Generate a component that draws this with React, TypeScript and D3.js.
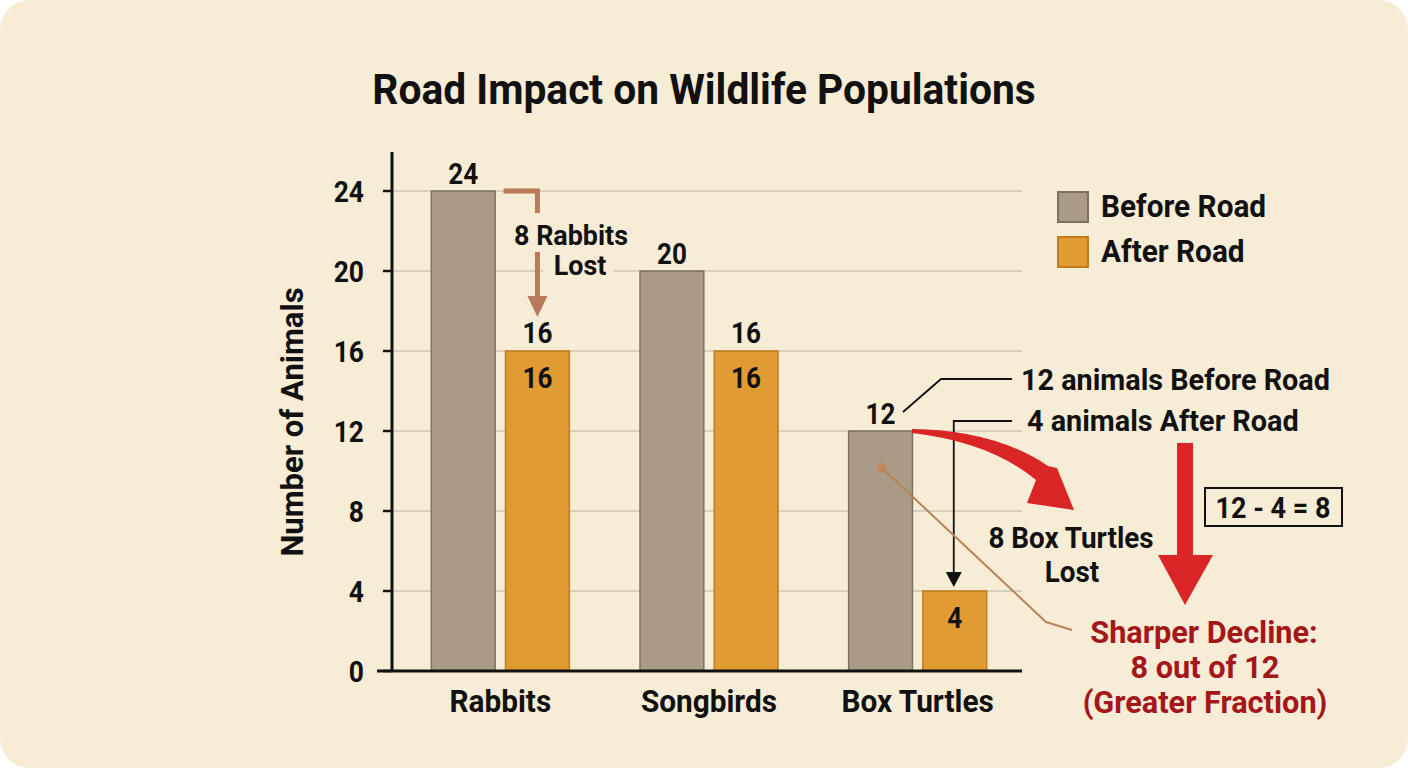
import React from 'react';
import * as d3 from 'd3';

const W = 1408;
const H = 768;

const categories = ['Rabbits', 'Songbirds', 'Box Turtles'];
const beforeRoad = [24, 20, 12];
const afterRoad = [16, 16, 4];
const seriesNames = ['Before Road', 'After Road'];
const yTicks = [0, 4, 8, 12, 16, 20, 24];

const FONT = "Roboto, 'Noto Sans', sans-serif";
const SX = 0.96; // slight squeeze toward a condensed look
const BG = '#f7ecd5';
const GRAY = '#a99b86';
const GRAY_STROKE = '#7d7163';
const ORANGE = '#e09b32';
const ORANGE_STROKE = '#c27c1c';
const GRID = '#cfc6b4';
const BROWN = '#b9795a';
const RED = '#d92525';
const DARK_RED = '#a3161a';
const INK = '#111';

const x0 = d3.scaleBand<string>().domain(categories).range([396, 1022]).paddingInner(0).paddingOuter(0);
const x1 = d3.scaleBand<string>().domain(seriesNames).range([-69, 69]).paddingInner(0.14);
const y = d3.scaleLinear().domain([0, 24]).range([671, 191]);

const cx = (i: number) => (x0(categories[i]) ?? 0) + x0.bandwidth() / 2;
const barX = (i: number, s: number) => cx(i) + (x1(seriesNames[s]) ?? 0);
const bw = x1.bandwidth();

type TProps = {
  x: number;
  y: number;
  size: number;
  anchor?: 'start' | 'middle' | 'end';
  fill?: string;
  weight?: number;
  sx?: number;
  children: React.ReactNode;
};

function T({ x, y, size, anchor = 'start', fill = INK, weight = 700, sx = SX, children }: TProps) {
  return (
    <text
      transform={`translate(${x},${y}) scale(${sx},1)`}
      textAnchor={anchor}
      fill={fill}
      style={{ fontFamily: FONT, fontSize: size, fontWeight: weight }}
    >
      {children}
    </text>
  );
}

export default function App() {
  const seriesData = [beforeRoad, afterRoad];
  const fills = [GRAY, ORANGE];
  const strokes = [GRAY_STROKE, ORANGE_STROKE];

  const rAfterL = barX(0, 1);
  const rAfterC = rAfterL + bw / 2;
  const tBeforeC = barX(2, 0) + bw / 2;
  const tAfterC = barX(2, 1) + bw / 2 - 1;

  // tapered curved red arrow
  const curveArrow = (() => {
    const p = d3.path();
    p.moveTo(912, y(12) + 2);
    p.quadraticCurveTo(990, 442, 1036, 480);
    p.lineTo(1027, 503);
    p.lineTo(1074, 510);
    p.lineTo(1057, 468);
    p.lineTo(1048, 466);
    p.quadraticCurveTo(995, 430, 912, y(12) - 2);
    p.closePath();
    return p.toString();
  })();

  return (
    <svg width={W} height={H} style={{ position: 'absolute', left: 0, top: 0 }}>
      <rect x={0} y={0} width={W} height={H} fill="#ffffff" />
      <rect x={0} y={0} width={W} height={H} rx={30} fill={BG} />

      <T x={704} y={104} size={42} anchor="middle" sx={0.97}>Road Impact on Wildlife Populations</T>

      {/* gridlines */}
      {yTicks.filter((t) => t > 0).map((t) => (
        <line key={t} x1={392} x2={1022} y1={y(t)} y2={y(t)} stroke={GRID} strokeWidth={1.5} />
      ))}

      {/* bars */}
      {categories.map((c, i) =>
        seriesData.map((d, s) => (
          <rect
            key={c + s}
            x={barX(i, s)}
            y={y(d[i])}
            width={bw}
            height={y(0) - y(d[i])}
            fill={fills[s]}
            stroke={strokes[s]}
            strokeWidth={1.5}
          />
        ))
      )}

      {/* axes */}
      <line x1={392} x2={392} y1={152} y2={y(0)} stroke={INK} strokeWidth={3} />
      <line x1={377} x2={1022} y1={y(0)} y2={y(0)} stroke={INK} strokeWidth={3} />
      {yTicks.map((t) => (
        <g key={t}>
          <line x1={383} x2={392} y1={y(t)} y2={y(t)} stroke={INK} strokeWidth={2.5} />
          <T x={364} y={y(t) + 11} size={30} anchor="end" sx={0.88}>{t}</T>
        </g>
      ))}
      {categories.map((c, i) => (
        <T key={c} x={cx(i)} y={712} size={31} anchor="middle">{c}</T>
      ))}
      <text
        transform="translate(303, 422) rotate(-90)"
        textAnchor="middle"
        fill={INK}
        style={{ fontFamily: FONT, fontSize: 31, fontWeight: 700 }}
      >
        Number of Animals
      </text>

      {/* value labels */}
      <T x={barX(0, 0) + bw / 2} y={y(24) - 7} size={29} anchor="middle" sx={0.9}>{beforeRoad[0]}</T>
      <T x={barX(1, 0) + bw / 2} y={y(20) - 7} size={29} anchor="middle" sx={0.9}>{beforeRoad[1]}</T>
      <T x={tBeforeC} y={y(12) - 7} size={29} anchor="middle" sx={0.9}>{beforeRoad[2]}</T>
      {[0, 1].map((i) => (
        <g key={i}>
          <T x={barX(i, 1) + bw / 2} y={y(afterRoad[i]) - 8} size={29} anchor="middle" sx={0.9}>{afterRoad[i]}</T>
          <T x={barX(i, 1) + bw / 2} y={y(afterRoad[i]) + 37} size={29} anchor="middle" sx={0.9}>{afterRoad[i]}</T>
        </g>
      ))}
      <T x={tAfterC + 1} y={y(afterRoad[2]) + 37} size={29} anchor="middle" sx={0.9}>{afterRoad[2]}</T>

      {/* legend */}
      {seriesNames.map((n, s) => (
        <g key={n}>
          <rect x={1058} y={192 + s * 45} width={30} height={30} fill={fills[s]} stroke={strokes[s]} strokeWidth={2} />
          <T x={1101} y={217 + s * 45} size={31}>{n}</T>
        </g>
      ))}

      {/* rabbits annotation */}
      <path
        d={`M${rAfterL - 2},${y(24)} H${rAfterC} V${y(24) + 22}`}
        fill="none"
        stroke={BROWN}
        strokeWidth={5}
      />
      <rect x={543} y={250} width={70} height={28} fill={BG} />
      <line x1={rAfterC} x2={rAfterC} y1={252} y2={298} stroke={BROWN} strokeWidth={5} />
      <path d={`M${rAfterC - 10},296 L${rAfterC + 10},296 L${rAfterC},317 Z`} fill={BROWN} />
      <T x={571} y={245} size={28} anchor="middle">8 Rabbits</T>
      <T x={580} y={275} size={28} anchor="middle">Lost</T>

      {/* box turtle annotations */}
      <path d="M903,412 L941,379 H1012" fill="none" stroke={INK} strokeWidth={1.8} />
      <T x={1021} y={390} size={30}>12 animals Before Road</T>
      <path d={`M1012,421 H${tAfterC} V574`} fill="none" stroke={INK} strokeWidth={1.8} />
      <path d={`M${tAfterC - 8},572 L${tAfterC + 8},572 L${tAfterC},587 Z`} fill={INK} />
      <T x={1027} y={431} size={30}>4 animals After Road</T>

      {/* thin brown leader */}
      <circle cx={882} cy={468} r={5} fill="#c4865f" />
      <path d="M882,468 L1046,622 L1072,630" fill="none" stroke="#b8835c" strokeWidth={2} />

      <path d={curveArrow} fill={RED} />
      <T x={1071} y={548} size={29} anchor="middle">8 Box Turtles</T>
      <T x={1072} y={582} size={29} anchor="middle">Lost</T>

      {/* vertical red arrow */}
      <rect x={1177} y={443} width={16} height={115} fill={RED} />
      <path d="M1158,555 L1213,555 L1185,605 Z" fill={RED} />

      <rect x={1205} y={488} width={137} height={38} fill="none" stroke={INK} strokeWidth={2} />
      <T x={1273} y={518} size={30} anchor="middle" sx={0.9}>12 - 4 = 8</T>

      <T x={1204} y={643} size={31} anchor="middle" fill={DARK_RED} sx={0.99}>Sharper Decline:</T>
      <T x={1205} y={678} size={31} anchor="middle" fill={DARK_RED} sx={0.99}>8 out of 12</T>
      <T x={1205} y={713} size={31} anchor="middle" fill={DARK_RED} sx={0.99}>(Greater Fraction)</T>
    </svg>
  );
}
